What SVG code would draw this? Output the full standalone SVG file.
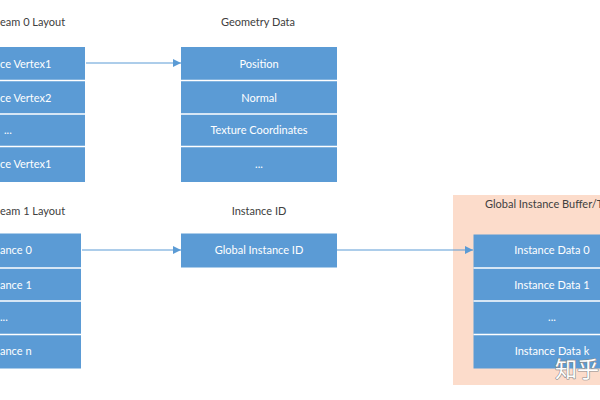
<svg xmlns="http://www.w3.org/2000/svg" width="600" height="400" viewBox="0 0 600 400">
<defs>
<marker id="arr" viewBox="0 0 10 10" refX="10" refY="5" markerWidth="8" markerHeight="8" markerUnits="userSpaceOnUse" orient="auto">
<path d="M0,0 L10,5 L0,10 z" fill="#5b9bd5"/>
</marker>
</defs>
<style>
.box{fill:#5b9bd5}
.div{stroke:#ffffff;stroke-width:1.5}
.t{font-family:Lato,"Open Sans","Liberation Sans",sans-serif;font-size:11px;fill:#ffffff;text-anchor:middle}
.tl{font-family:Lato,"Open Sans","Liberation Sans",sans-serif;font-size:11px;fill:#ffffff}
.h{font-family:Lato,"Open Sans","Liberation Sans",sans-serif;font-size:11px;fill:#404040;text-anchor:middle}
.hl{font-family:Lato,"Open Sans","Liberation Sans",sans-serif;font-size:11px;fill:#404040}
.c{stroke:#5b9bd5;stroke-width:1;fill:none}
.wm{font-family:"Noto Sans CJK SC",sans-serif;font-size:22px}
</style>
<rect width="600" height="400" fill="#ffffff"/>
<g id="global-buffer-bg">
<rect x="453" y="195" width="160" height="190" fill="#fcdccb"/>
<text class="hl" x="485" y="208">Global Instance Buffer/T</text>
</g>
<g id="stream0">
<text class="hl" x="0" y="26">eam 0 Layout</text>
<rect class="box" x="-71" y="47" width="156" height="135"/>
<line class="div" x1="-71" y1="80.5" x2="85" y2="80.5"/>
<line class="div" x1="-71" y1="114" x2="85" y2="114"/>
<line class="div" x1="-71" y1="146.5" x2="85" y2="146.5"/>
<text class="tl" x="0" y="67.5">ce Vertex1</text>
<text class="tl" x="0" y="101.5">ce Vertex2</text>
<text class="tl" x="4" y="134">...</text>
<text class="tl" x="0" y="168">ce Vertex1</text>
</g>
<g id="geometry">
<text class="h" x="258" y="26">Geometry Data</text>
<rect class="box" x="181" y="47" width="156" height="135"/>
<line class="div" x1="181" y1="80.5" x2="337" y2="80.5"/>
<line class="div" x1="181" y1="114" x2="337" y2="114"/>
<line class="div" x1="181" y1="146.5" x2="337" y2="146.5"/>
<text class="t" x="259" y="67.5">Position</text>
<text class="t" x="259" y="101.5">Normal</text>
<text class="t" x="259" y="134">Texture Coordinates</text>
<text class="t" x="259" y="168">...</text>
</g>
<g id="stream1">
<text class="hl" x="0" y="215">eam 1 Layout</text>
<rect class="box" x="-75" y="233.5" width="156" height="135"/>
<line class="div" x1="-75" y1="268" x2="81" y2="268"/>
<line class="div" x1="-75" y1="301" x2="81" y2="301"/>
<line class="div" x1="-75" y1="334.5" x2="81" y2="334.5"/>
<text class="tl" x="0" y="254">ance 0</text>
<text class="tl" x="0" y="289">ance 1</text>
<text class="tl" x="0" y="321">...</text>
<text class="tl" x="0" y="355">ance n</text>
</g>
<g id="instance-id">
<text class="h" x="259" y="215">Instance ID</text>
<rect class="box" x="181" y="233.5" width="156" height="34"/>
<text class="t" x="259" y="254">Global Instance ID</text>
</g>
<g id="instance-data">
<rect class="box" x="473.5" y="234.5" width="157" height="134"/>
<line class="div" x1="473.5" y1="268" x2="630" y2="268"/>
<line class="div" x1="473.5" y1="301" x2="630" y2="301"/>
<line class="div" x1="473.5" y1="334.5" x2="630" y2="334.5"/>
<text class="t" x="552" y="254">Instance Data 0</text>
<text class="t" x="552" y="289">Instance Data 1</text>
<text class="t" x="552" y="321">...</text>
<text class="t" x="552" y="355">Instance Data k</text>
</g>
<g id="connectors">
<line class="c" x1="86" y1="63" x2="181" y2="63" marker-end="url(#arr)"/>
<line class="c" x1="82" y1="250" x2="181" y2="250" marker-end="url(#arr)"/>
<line class="c" x1="337" y1="250" x2="473" y2="250" marker-end="url(#arr)"/>
</g>
<g id="watermark">
<text class="wm" x="555" y="377" fill="#ffffff" stroke="#8a8a8a" stroke-width="1.2" stroke-linejoin="round">知乎</text>
<text class="wm" x="555" y="377" fill="#ffffff">知乎</text>
</g>
</svg>
